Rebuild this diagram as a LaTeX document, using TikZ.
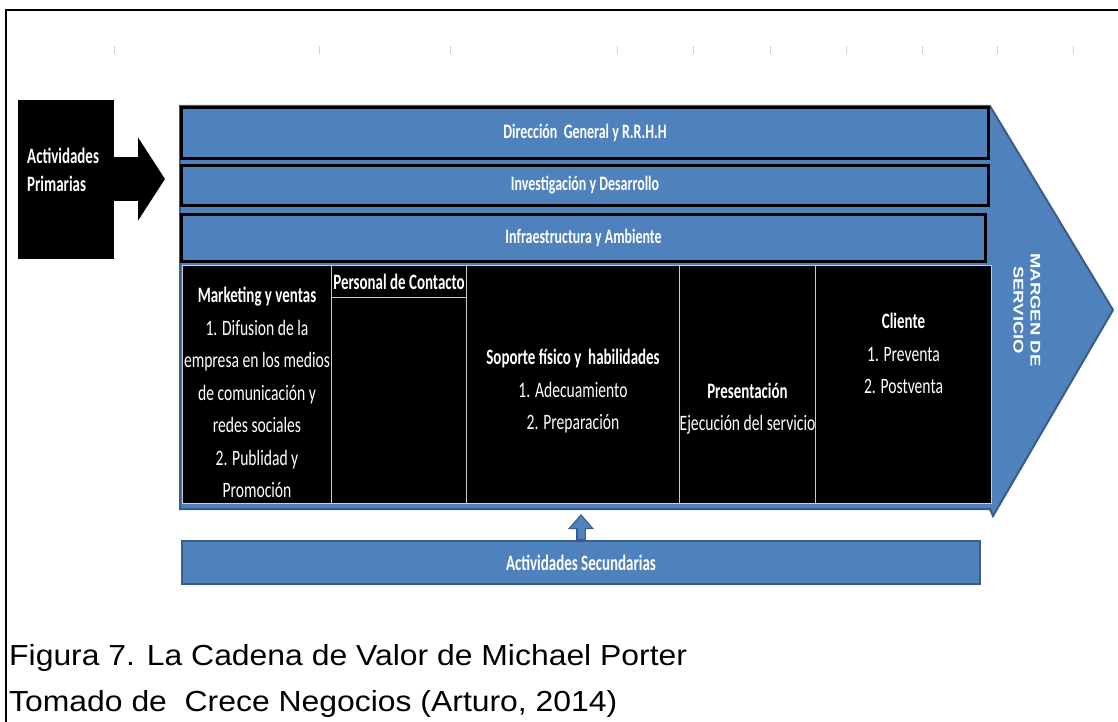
\documentclass[tikz,border=0pt]{standalone}
\usepackage{fontspec}
\setmainfont{Carlito}
\newfontfamily\calib[FakeStretch=0.71]{Carlito}
\newfontfamily\calibb[FakeStretch=0.68]{Carlito}
\newfontfamily\arialc[FakeStretch=1.1]{Liberation Sans}
\newfontfamily\arialm[FakeStretch=1.32]{Liberation Sans}
\usetikzlibrary{positioning,arrows.meta}
\definecolor{azul}{HTML}{4F81BD}
\definecolor{azulosc}{HTML}{385D8A}

\begin{document}
\begin{tikzpicture}[x=1pt,y=-1pt]
    \tikzstyle{barra} = [rectangle, draw=black, line width=3pt, fill=azul,
      text=white, inner sep=0pt,
      font=\calibb\bfseries\fontsize{20.5}{22}\selectfont]
    \tikzstyle{celda} = [rectangle, draw=white!80!black, line width=1pt,
      fill=black, anchor=north west, inner sep=0pt]
    \tikzstyle{texto} = [text=white, align=center, inner sep=0pt,
      font=\calib\fontsize{22}{32.5}\selectfont]
    \tikzstyle{pie} = [anchor=base west, inner sep=0pt,
      font=\arialc\fontsize{29}{34}\selectfont]
    \newcommand{\titulo}[1]{{\calibb\bfseries #1}}

    \useasboundingbox (0,0) rectangle (1118,722);

    % Frame and ruler ticks
    \draw[line width=2pt] (6,722) -- (6,10) -- (1118,10);
    \foreach \x in {114,319,450,617,693,770,846,922,997,1073}
      \draw[gray!35] (\x,46) -- (\x,54);

    % Margin chevron
    \filldraw[fill=azul, draw=azulosc, line width=2pt] (180,106) -- (990,106)
      -- (1113,310) -- (993,516) -- (990,509) -- (180,509) -- cycle;

    % Support bars
    \node[barra, minimum width=807, minimum height=51] (direccion) at (585,133)
      {Dirección\ \ General y R.R.H.H};
    \node[barra, minimum width=807, minimum height=40] (investigacion) at (585,185.5)
      {Investigación y Desarrollo};
    \node[barra, minimum width=804, minimum height=47] (infra) at (583.5,238)
      {Infraestructura y Ambiente};

    % Define table
    \node[celda, minimum width=149, minimum height=238] (mkt) at (182,265) {};
    \node[celda, minimum width=135, minimum height=32] (personal) at (331,265) {};
    \node[celda, minimum width=135, minimum height=206] (personalb) at (331,297) {};
    \node[celda, minimum width=213, minimum height=238] (soporte) at (466,265) {};
    \node[celda, minimum width=136, minimum height=238] (present) at (679,265) {};
    \node[celda, minimum width=176, minimum height=238] (cliente) at (815,265) {};

    \node[texto] (t-mkt) at ([yshift=-8pt]mkt.center)
      {\titulo{Marketing y ventas}\\1. Difusion de la\\empresa en los medios\\
       de comunicación y\\redes sociales\\2. Publidad y\\Promoción};
    \node[texto, font=\calibb\bfseries\fontsize{22}{22}\selectfont] (t-personal)
      at (personal.center) {Personal de Contacto};
    \node[texto] (t-soporte) at ([yshift=-7pt]soporte.center)
      {\titulo{Soporte físico y\ \ habilidades}\\1. Adecuamiento\\2. Preparación};
    \node[texto] (t-present) at ([yshift=-24pt]present.center)
      {\titulo{Presentación}\\Ejecución del servicio};
    \node[texto] (t-cliente) at ([yshift=31pt]cliente.center)
      {\titulo{Cliente}\\1. Preventa\\2. Postventa};

    \node[text=white, rotate=-90, align=center, inner sep=0pt,
      font=\arialm\bfseries\fontsize{14}{17}\selectfont] (margen) at (1027,310)
      {MARGEN DE\\SERVICIO};

    % Primary activities arrow
    \node[rectangle, fill=black, anchor=north west, minimum width=96,
      minimum height=159, inner sep=0pt] (prim) at (18,100) {};
    \node[texto, anchor=west, align=left,
      font=\calibb\bfseries\fontsize{22}{28}\selectfont] (t-prim)
      at ([xshift=9pt,yshift=10pt]prim.west) {Actividades\\Primarias};
    \coordinate (primtip) at (165,179);
    \draw[line width=44pt, -{Triangle[width=82pt,length=27pt]}]
      (prim.east |- primtip) -- (primtip);

    % Secondary activities
    \node[rectangle, draw=azulosc, line width=1.5pt, fill=azul, text=white,
      inner sep=0pt, minimum width=798, minimum height=43,
      font=\calibb\bfseries\fontsize{22}{22}\selectfont] (secundarias)
      at (581,562.5) {Actividades Secundarias};
    \draw[azulosc, line width=10pt, -{Triangle[width=25pt,length=15pt]},
      shorten >=10pt] (secundarias.north) -- (secundarias.north |- mkt.south);
    \draw[azul, line width=7pt, -{Triangle[width=20pt,length=12pt]},
      shorten >=12pt, shorten <=1pt] (secundarias.north) -- (secundarias.north |- mkt.south);

    % Caption
    \node[pie] (figura) at (9,665) {Figura 7. La Cadena de Valor de Michael Porter};
    \node[pie] (tomado) at (9,711) {Tomado de\ \ Crece Negocios (Arturo, 2014)};
  \end{tikzpicture}
\end{document}
